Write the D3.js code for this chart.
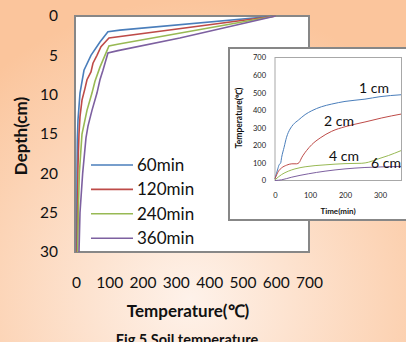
<!DOCTYPE html>
<html>
<head>
<meta charset="utf-8">
<title>Soil temperature</title>
<script src="https://cdn.jsdelivr.net/npm/d3@7"></script>
<style>
  body { margin: 0; overflow: hidden; }
  svg { position: absolute; left: 0; top: 0; font-family: Lato, "Open Sans", sans-serif; }
</style>
</head>
<body>
<script>
var w = 406, h = 342;

// main chart: temperature (C) read at depth (cm), one pair of arrays per time
var depth60  = [0, 1.8, 2.0, 3.3, 5, 6.9, 9.8, 13.2, 15.8, 20, 30];
var temp60   = [600, 132, 96, 72, 45, 24, 12, 6, 4, 3, 2];
var depth120 = [0, 2.8, 3.9, 5, 6, 7.1, 8.1, 9.2, 10.7, 12.8, 15, 19, 30];
var temp120  = [600, 99, 75, 63, 51, 45, 33, 27, 18, 12, 9, 6, 3];
var depth240 = [0, 3.56, 3.8, 5, 6.5, 8.3, 9.8, 12, 15, 20, 25, 30];
var temp240  = [600, 129, 99, 87, 72, 57, 48, 33, 18, 10, 7, 5];
var depth360 = [0, 2.8, 4.4, 4.7, 6.9, 8.1, 9.8, 12, 14, 15.5, 20, 25, 30];
var temp360  = [600, 312, 126, 96, 81, 72, 63, 48, 36, 30, 20, 12, 9];
var mainNames = ["60min", "120min", "240min", "360min"];
var mainTicksX = [0, 100, 200, 300, 400, 500, 600, 700];
var mainTicksY = [0, 5, 10, 15, 20, 25, 30];

// inset: temperature (C) over time (min) at each depth
var time1 = [0, 8, 12, 16, 19, 26, 33, 43, 52, 67, 86, 105, 133, 162, 200, 257, 300, 360];
var temp1 = [10, 66, 91, 98, 132, 189, 246, 293, 318, 344, 375, 397, 420, 435, 450, 463, 477, 488];
var time2 = [0, 10, 19, 33, 48, 62, 69, 76, 90, 105, 129, 162, 200, 257, 305, 360];
var temp2 = [10, 53, 72, 87, 95, 95, 102, 129, 170, 204, 242, 280, 306, 333, 356, 378];
var time4 = [0, 19, 38, 57, 86, 143, 200, 248, 267, 295, 324, 360];
var temp4 = [4, 34, 53, 66, 78, 89, 96, 98, 104, 123, 142, 170];
var time6 = [0, 19, 48, 95, 143, 200, 257, 314, 360];
var temp6 = [0, 4, 19, 38, 53, 66, 74, 78, 80];
var insetNames = ["1 cm", "2 cm", "4 cm", "6 cm"];
var insetTicksX = [0, 100, 200, 300];
var insetTicksY = [0, 100, 200, 300, 400, 500, 600, 700];

var colors = ["#4a7ebb", "#be4b48", "#98b954", "#7d60a0"];

var svg = d3.select("body").append("svg")
    .attr("width", w)
    .attr("height", h);

// peach background
var grad = svg.append("defs").append("radialGradient")
    .attr("id", "bg")
    .attr("gradientUnits", "userSpaceOnUse")
    .attr("cx", 190).attr("cy", 300).attr("r", 300);
grad.append("stop").attr("offset", "0").attr("stop-color", "#fef2ea");
grad.append("stop").attr("offset", "1").attr("stop-color", "#fbc59c");
svg.append("rect").attr("width", w).attr("height", h).attr("fill", "url(#bg)");

// ---- main chart ----
var x = d3.scaleLinear().domain([0, 700]).range([76, 309]);
var y = d3.scaleLinear().domain([0, 30]).range([16, 252]);

svg.append("rect")
    .attr("x", 75).attr("y", 16)
    .attr("width", 234).attr("height", 236)
    .attr("fill", "white")
    .attr("stroke", "#878787")
    .attr("stroke-width", 2);

var mainSeries = [
    d3.zip(temp60, depth60),
    d3.zip(temp120, depth120),
    d3.zip(temp240, depth240),
    d3.zip(temp360, depth360)
];

var mainLine = d3.line()
    .x(function(d) { return x(d[0]); })
    .y(function(d) { return y(d[1]); });

svg.selectAll(".mline")
    .data(mainSeries)
    .enter().append("path")
    .attr("class", "mline")
    .attr("d", mainLine)
    .attr("fill", "none")
    .attr("stroke", function(d, i) { return colors[i]; })
    .attr("stroke-width", 1.6);

var yAxis = svg.append("g")
    .attr("transform", "translate(75,0)")
    .call(d3.axisLeft(y).tickValues(mainTicksY).tickSize(0).tickPadding(17));
yAxis.select(".domain").remove();
yAxis.selectAll("text")
    .attr("font-family", "Lato, sans-serif")
    .attr("font-size", "15.5px")
    .attr("fill", "#111");

var xAxis = svg.append("g")
    .attr("transform", "translate(0,252)")
    .call(d3.axisBottom(x).tickValues(mainTicksX).tickSize(0).tickPadding(25));
xAxis.select(".domain").remove();
xAxis.selectAll("text")
    .attr("font-family", "Lato, sans-serif")
    .attr("font-size", "15.5px")
    .attr("fill", "#111");

svg.append("text")
    .attr("transform", "translate(27,136) rotate(-90)")
    .attr("text-anchor", "middle")
    .attr("font-weight", "bold")
    .attr("font-size", "17px")
    .attr("fill", "#111")
    .text("Depth(cm)");

svg.append("text")
    .attr("x", 188).attr("y", 317)
    .attr("text-anchor", "middle")
    .attr("font-weight", "bold")
    .attr("font-size", "17px")
    .attr("fill", "#111")
    .text("Temperature(℃)");

svg.append("text")
    .attr("x", 187).attr("y", 345)
    .attr("text-anchor", "middle")
    .attr("font-weight", "bold")
    .attr("font-size", "14.5px")
    .attr("fill", "#111")
    .text("Fig 5 Soil temperature");

// legend
var legend = svg.selectAll(".leg")
    .data(mainNames)
    .enter().append("g")
    .attr("class", "leg")
    .attr("transform", function(d, i) { return "translate(91," + (165 + i * 24.4) + ")"; });
legend.append("line")
    .attr("x1", 0).attr("x2", 42)
    .attr("stroke", function(d, i) { return colors[i]; })
    .attr("stroke-width", 1.6);
legend.append("text")
    .attr("x", 46).attr("dy", "0.35em")
    .attr("font-size", "17px")
    .attr("fill", "#111")
    .text(function(d) { return d; });

// ---- inset chart ----
var ix = d3.scaleLinear().domain([0, 360]).range([275, 401]);
var iy = d3.scaleLinear().domain([0, 700]).range([180.5, 57.5]);

svg.append("rect")
    .attr("x", 229).attr("y", 48)
    .attr("width", 200).attr("height", 172)
    .attr("fill", "white")
    .attr("stroke", "#878787")
    .attr("stroke-width", 2);

svg.append("rect")
    .attr("x", 275).attr("y", 57.5)
    .attr("width", 126.5).attr("height", 123)
    .attr("fill", "none")
    .attr("stroke", "#a8a8a8")
    .attr("stroke-width", 1);

var insetSeries = [
    d3.zip(time1, temp1),
    d3.zip(time2, temp2),
    d3.zip(time4, temp4),
    d3.zip(time6, temp6)
];

var insetLine = d3.line()
    .curve(d3.curveMonotoneX)
    .x(function(d) { return ix(d[0]); })
    .y(function(d) { return iy(d[1]); });

svg.selectAll(".iline")
    .data(insetSeries)
    .enter().append("path")
    .attr("class", "iline")
    .attr("d", insetLine)
    .attr("fill", "none")
    .attr("stroke", function(d, i) { return colors[i]; })
    .attr("stroke-width", 1);

var iyAxis = svg.append("g")
    .attr("transform", "translate(275,0)")
    .call(d3.axisLeft(iy).tickValues(insetTicksY).tickSize(0).tickPadding(9));
iyAxis.select(".domain").remove();
iyAxis.selectAll("text")
    .attr("font-family", "Lato, sans-serif")
    .attr("font-size", "7.5px")
    .attr("fill", "#222");

var ixAxis = svg.append("g")
    .attr("transform", "translate(0,180.5)")
    .call(d3.axisBottom(ix).tickValues(insetTicksX).tickSize(0).tickPadding(12));
ixAxis.select(".domain").remove();
ixAxis.selectAll("text")
    .attr("font-family", "Lato, sans-serif")
    .attr("font-size", "7.5px")
    .attr("fill", "#222");

svg.append("text")
    .attr("x", 338).attr("y", 214)
    .attr("text-anchor", "middle")
    .attr("font-weight", "bold")
    .attr("font-size", "8px")
    .attr("fill", "#111")
    .text("Time(min)");

svg.append("text")
    .attr("transform", "translate(242,118) rotate(-90)")
    .attr("text-anchor", "middle")
    .attr("font-weight", "bold")
    .attr("font-size", "8.5px")
    .attr("fill", "#111")
    .text("Temperature(℃)");

var labelPos = [[374, 93], [339, 126], [344, 161], [386, 168]];
svg.selectAll(".ilab")
    .data(insetNames)
    .enter().append("text")
    .attr("class", "ilab")
    .attr("x", function(d, i) { return labelPos[i][0]; })
    .attr("y", function(d, i) { return labelPos[i][1]; })
    .attr("text-anchor", "middle")
    .attr("font-size", "14px")
    .attr("fill", "#111")
    .text(function(d) { return d; });
</script>
</body>
</html>
